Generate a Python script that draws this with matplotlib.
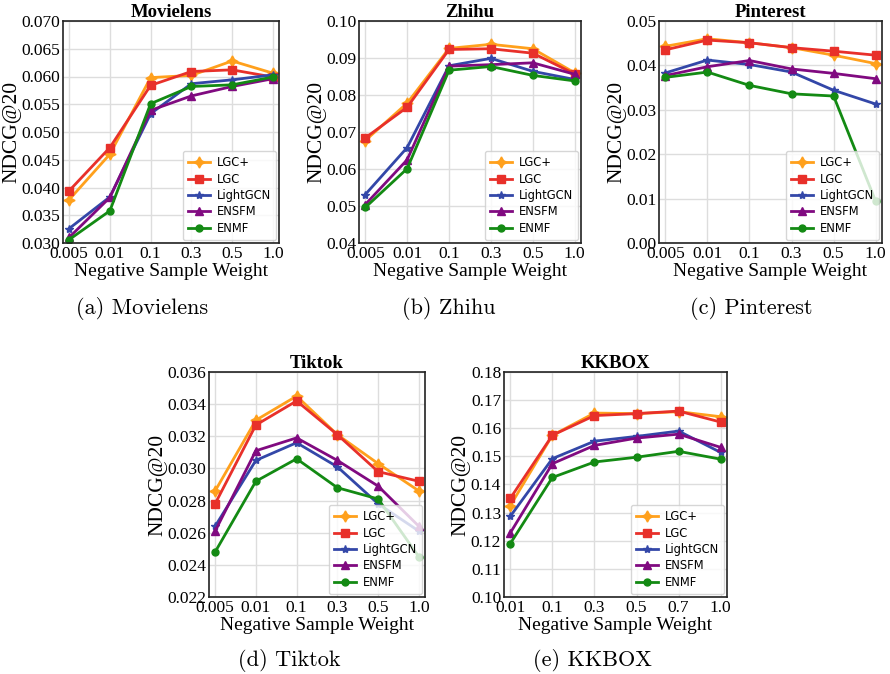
import numpy as np
import matplotlib
matplotlib.use('Agg')
import matplotlib.pyplot as plt

# x tick labels (categorical, equally spaced)
x_top = ['0.005', '0.01', '0.1', '0.3', '0.5', '1.0']
x_kkbox = ['0.01', '0.1', '0.3', '0.5', '0.7', '1.0']

methods = ['LGC+', 'LGC', 'LightGCN', 'ENSFM', 'ENMF']

# Movielens
movielens_lgcp = [0.0378, 0.0460, 0.0598, 0.0602, 0.0628, 0.0606]
movielens_lgc = [0.0394, 0.0472, 0.0584, 0.0609, 0.0612, 0.0599]
movielens_lightgcn = [0.0326, 0.0383, 0.0533, 0.0587, 0.0594, 0.0603]
movielens_ensfm = [0.0310, 0.0382, 0.0539, 0.0565, 0.0582, 0.0596]
movielens_enmf = [0.0306, 0.0358, 0.0551, 0.0582, 0.0585, 0.0599]

# Zhihu
zhihu_lgcp = [0.0677, 0.0778, 0.0926, 0.0937, 0.0925, 0.0860]
zhihu_lgc = [0.0684, 0.0767, 0.0923, 0.0925, 0.0913, 0.0857]
zhihu_lightgcn = [0.0531, 0.0658, 0.0879, 0.0899, 0.0864, 0.0842]
zhihu_ensfm = [0.0504, 0.0625, 0.0878, 0.0882, 0.0887, 0.0856]
zhihu_enmf = [0.0496, 0.0601, 0.0867, 0.0877, 0.0853, 0.0838]

# Pinterest
pinterest_lgcp = [0.0443, 0.0460, 0.0451, 0.0440, 0.0423, 0.0404]
pinterest_lgc = [0.0435, 0.0457, 0.0451, 0.0440, 0.0432, 0.0423]
pinterest_lightgcn = [0.0383, 0.0412, 0.0402, 0.0385, 0.0344, 0.0313]
pinterest_ensfm = [0.0377, 0.0397, 0.0411, 0.0392, 0.0382, 0.0370]
pinterest_enmf = [0.0373, 0.0385, 0.0355, 0.0336, 0.0331, 0.0094]

# Tiktok
tiktok_lgcp = [0.0286, 0.0330, 0.0345, 0.0321, 0.0303, 0.0286]
tiktok_lgc = [0.0278, 0.0327, 0.0342, 0.0321, 0.0298, 0.0292]
tiktok_lightgcn = [0.0264, 0.0305, 0.0316, 0.0301, 0.0278, 0.0261]
tiktok_ensfm = [0.0261, 0.0311, 0.0319, 0.0305, 0.0289, 0.0264]
tiktok_enmf = [0.0248, 0.0292, 0.0306, 0.0288, 0.0281, 0.0245]

# KKBOX
kkbox_lgcp = [0.1325, 0.1575, 0.1654, 0.1652, 0.1659, 0.1641]
kkbox_lgc = [0.1351, 0.1575, 0.1645, 0.1652, 0.1661, 0.1622]
kkbox_lightgcn = [0.1287, 0.1492, 0.1554, 0.1571, 0.1590, 0.1514]
kkbox_ensfm = [0.1228, 0.1474, 0.1539, 0.1565, 0.1579, 0.1532]
kkbox_enmf = [0.1190, 0.1425, 0.1480, 0.1497, 0.1518, 0.1490]

colors = ['#ffa01c', '#e8302a', '#3347a8', '#800a80', '#138a13']
markers = [(4, 1, 0), 's', '*', '^', 'o']
msizes = [8, 6, 6, 6, 5]

serif = 'Liberation Serif'

fig = plt.figure(figsize=(8.9, 6.74), dpi=100)
W, H = 890.0, 674.0


def make_axes(x0, x1, y0, y1):
    # pixel box -> figure fraction
    return fig.add_axes([x0 / W, 1 - y1 / H, (x1 - x0) / W, (y1 - y0) / H])


def draw_panel(ax, title, xlabels, series, yticks, yfmt, caption, cap_xy):
    x = np.arange(len(xlabels))
    for vals, name, c, m, ms in zip(series, methods, colors, markers, msizes):
        ax.plot(x, vals, color=c, marker=m, markersize=ms, linewidth=2, label=name)
    ax.set_xlim(-0.15, len(xlabels) - 1 + 0.15)
    ax.set_xticks(x)
    ax.set_xticklabels(xlabels)
    ax.set_yticks(yticks)
    ax.set_ylim(yticks[0], yticks[-1])
    ax.yaxis.set_major_formatter(matplotlib.ticker.FormatStrFormatter(yfmt))
    for lab in ax.get_xticklabels() + ax.get_yticklabels():
        lab.set_fontfamily(serif)
        lab.set_fontsize(12.5)
    ax.tick_params(length=0, pad=2)
    ax.grid(True, color='#dddddd', linewidth=1)
    ax.set_axisbelow(True)
    for s in ax.spines.values():
        s.set_color('#222222')
        s.set_linewidth(1.2)
    ax.set_title(title, fontfamily=serif, fontweight='bold', fontsize=13.5, pad=3)
    ax.set_xlabel('Negative Sample Weight', fontfamily=serif, fontsize=14, labelpad=1)
    ax.set_ylabel('NDCG@20', fontfamily=serif, fontsize=15.5, labelpad=0)
    leg = ax.legend(loc='lower right', fontsize=8.3, framealpha=0.8,
                    handlelength=1.9, borderpad=0.45, labelspacing=0.3,
                    borderaxespad=0.25, handletextpad=0.6)
    leg.get_frame().set_edgecolor('#cccccc')
    fig.text(cap_xy[0] / W, 1 - cap_xy[1] / H, caption, fontfamily='cmr10',
             fontsize=16, ha='center', va='center')


ax1 = make_axes(63, 279, 21, 243)
draw_panel(ax1, 'Movielens', x_top,
           [movielens_lgcp, movielens_lgc, movielens_lightgcn, movielens_ensfm, movielens_enmf],
           [0.030, 0.035, 0.040, 0.045, 0.050, 0.055, 0.060, 0.065, 0.070], '%.3f',
           '(a) Movielens', (142, 309))

ax2 = make_axes(359, 581, 21, 243)
draw_panel(ax2, 'Zhihu', x_top,
           [zhihu_lgcp, zhihu_lgc, zhihu_lightgcn, zhihu_ensfm, zhihu_enmf],
           [0.04, 0.05, 0.06, 0.07, 0.08, 0.09, 0.10], '%.2f',
           '(b) Zhihu', (449, 309))

ax3 = make_axes(659, 882, 21, 243)
draw_panel(ax3, 'Pinterest', x_top,
           [pinterest_lgcp, pinterest_lgc, pinterest_lightgcn, pinterest_ensfm, pinterest_enmf],
           [0.00, 0.01, 0.02, 0.03, 0.04, 0.05], '%.2f',
           '(c) Pinterest', (751, 309))

ax4 = make_axes(209, 425, 372, 597)
draw_panel(ax4, 'Tiktok', x_top,
           [tiktok_lgcp, tiktok_lgc, tiktok_lightgcn, tiktok_ensfm, tiktok_enmf],
           [0.022, 0.024, 0.026, 0.028, 0.030, 0.032, 0.034, 0.036], '%.3f',
           '(d) Tiktok', (289, 660))

ax5 = make_axes(504, 727, 372, 597)
draw_panel(ax5, 'KKBOX', x_kkbox,
           [kkbox_lgcp, kkbox_lgc, kkbox_lightgcn, kkbox_ensfm, kkbox_enmf],
           [0.10, 0.11, 0.12, 0.13, 0.14, 0.15, 0.16, 0.17, 0.18], '%.2f',
           '(e) KKBOX', (592, 660))

fig.savefig('out.png', dpi=100)
